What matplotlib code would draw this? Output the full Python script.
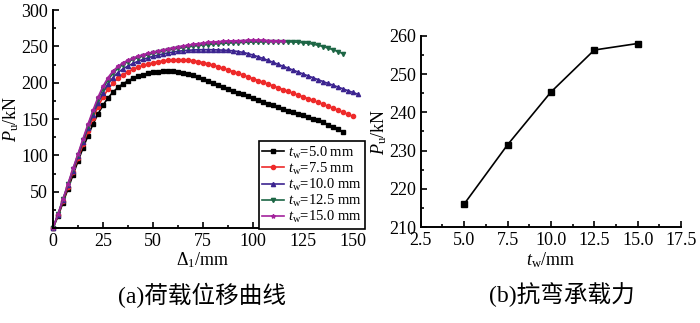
import matplotlib.pyplot as plt
from matplotlib.ticker import MultipleLocator, FuncFormatter

plt.rcParams['font.family'] = ['Liberation Serif', 'Noto Sans CJK SC']
plt.rcParams['mathtext.fontset'] = 'custom'
plt.rcParams['mathtext.rm'] = 'Liberation Serif'
plt.rcParams['mathtext.it'] = 'Liberation Serif:italic'

# displacement (mm), shared by all curves
disp = [0, 2.5, 5, 7.5, 10, 12.5, 15, 17.5, 20, 22.5, 25, 27.5, 30, 32.5, 35, 37.5,
        40, 42.5, 45, 47.5, 50, 52.5, 55, 57.5, 60, 62.5, 65, 67.5, 70, 72.5, 75, 77.5,
        80, 82.5, 85, 87.5, 90, 92.5, 95, 97.5, 100, 102.5, 105, 107.5, 110, 112.5,
        115, 117.5, 120, 122.5, 125, 127.5, 130, 132.5, 135, 137.5, 140, 142.5, 145,
        147.5, 150, 152.5]

# load (kN) for each web thickness
load_50 = [0, 16, 35, 54, 73, 92, 110, 127, 143, 157, 169, 179, 187, 193.5, 198.5, 202.5,
           206, 208.7, 211, 212.8, 214.2, 215.2, 215.8, 216, 215.7, 214.9, 213.6, 211.9,
           209.9, 207.6, 205.1, 202.5, 199.8, 197, 194.2, 191.5, 188.9, 186.3, 183.8,
           181.3, 178.8, 176.3, 173.8, 171.3, 168.8, 166.4, 164, 161.7, 159.4, 157.2,
           155, 152.8, 150.5, 148, 145.4, 142.4, 139.2, 135.8, 132.3]
load_75 = [0, 17.5, 37, 57, 77, 96, 115, 134, 151, 167, 180, 191, 199.5, 206, 211, 215,
           218.5, 221.3, 223.7, 225.7, 227.4, 228.8, 230, 230.9, 231.4, 231.6, 231.5, 231,
           230.2, 229, 227.6, 225.9, 224, 222, 219.8, 217.5, 215.2, 212.8, 210.4, 207.9,
           205.4, 203, 200.5, 198, 195.5, 193, 190.5, 188, 185.5, 183, 180.5, 178, 175.5,
           173, 170.3, 167.6, 164.9, 162.1, 159.3, 156.4, 153.5]
load_100 = [0, 18.5, 39, 59, 79, 99, 119, 138, 156, 172, 186, 198, 207, 214, 219, 223,
            226.5, 229.5, 232, 234.3, 236.3, 238, 239.6, 241, 242.2, 243.2, 244, 244.6,
            245, 245.3, 245.4, 245.4, 245.3, 245.1, 244.8, 244.4, 243.8, 242.9, 241.7,
            240, 238, 235.8, 233.3, 230.7, 228, 225.3, 222.6, 220, 217.3, 214.7, 212,
            209.4, 206.8, 204.2, 201.6, 199, 196.5, 194, 191.5, 189, 186.5, 184]
load_125 = [0, 19, 40, 60, 81, 101, 121, 141, 160, 177, 192, 204, 213, 220, 225, 229,
            232, 234.5, 236.5, 238.5, 240.2, 241.8, 243.3, 244.7, 246, 247.2, 248.3,
            249.3, 250.2, 251, 251.8, 252.5, 253.1, 253.6, 254.1, 254.5, 254.9, 255.2,
            255.5, 255.7, 255.9, 256, 256.1, 256.2, 256.3, 256.3, 256.3, 256.2, 256,
            255.6, 255, 254.2, 253, 251.5, 249.7, 247.6, 245.3, 242.8, 240]
load_150 = [0, 19, 40, 61, 82, 102, 123, 143, 162, 180, 195, 207, 216, 222.5, 227.5, 231,
            234, 236.5, 238.5, 240.5, 242, 243.5, 245, 246.5, 248, 249.3, 250.5, 251.7,
            252.8, 253.8, 254.7, 255.4, 256, 256.5, 257, 257.3, 257.6, 257.8, 258, 258.1,
            258.2, 258.2, 258.1, 258, 257.8, 257.6, 257.3]

labels = [r'$t_\mathrm{w}$=5.0 mm', r'$t_\mathrm{w}$=7.5 mm', r'$t_\mathrm{w}$=10.0 mm',
          r'$t_\mathrm{w}$=12.5 mm', r'$t_\mathrm{w}$=15.0 mm']
colors = ['black', '#ee2a2a', '#3c2490', '#1d6645', '#a3229c']
markers = ['s', 'o', '^', 'v', '*']

# ultimate capacity vs web thickness
tw = [5.0, 7.5, 10.0, 12.5, 15.0]
pu = [216.0, 231.5, 245.3, 256.3, 258.0]

fig = plt.figure(figsize=(7, 3.23), dpi=100)
ax1 = fig.add_axes([0.0757, 0.294, 0.4286, 0.675])
ax2 = fig.add_axes([0.601, 0.297, 0.372, 0.592])

curves = [load_50, load_75, load_100, load_125, load_150]
for load, lab, c, m in zip(curves, labels, colors, markers):
    ax1.plot(disp[:len(load)], load, color=c, marker=m, markersize=3, lw=1.2,
             label=lab, clip_on=False)

ax1.set_xlim(0, 150)
ax1.set_ylim(0, 300)
ax1.xaxis.set_major_locator(MultipleLocator(25))
ax1.xaxis.set_minor_locator(MultipleLocator(12.5))
ax1.yaxis.set_major_locator(MultipleLocator(50))
ax1.yaxis.set_minor_locator(MultipleLocator(25))
ax1.yaxis.set_major_formatter(FuncFormatter(lambda v, p: '' if v == 0 else '%d' % v))
ax1.set_xlabel(r'$\mathit{Δ}_1$/mm', fontsize=13, labelpad=0)
ax1.set_ylabel(r'$P_\mathrm{u}$/kN', fontsize=13, labelpad=0)
leg = ax1.legend(loc='upper left', bbox_to_anchor=(0.685, 0.40), borderaxespad=0,
                 fontsize=10.5, handlelength=1.5, handletextpad=0.25, labelspacing=0.0,
                 borderpad=0.25, fancybox=False, framealpha=1)
leg.get_frame().set_edgecolor('black')
leg.get_frame().set_linewidth(1.2)

ax2.plot(tw, pu, color='black', marker='s', markersize=5, lw=1.2)
ax2.set_xlim(2.5, 17.5)
ax2.set_ylim(210, 260)
ax2.xaxis.set_major_locator(MultipleLocator(2.5))
ax2.xaxis.set_minor_locator(MultipleLocator(1.25))
ax2.yaxis.set_major_locator(MultipleLocator(10))
ax2.yaxis.set_minor_locator(MultipleLocator(5))
ax2.xaxis.set_major_formatter(FuncFormatter(lambda v, p: '%.1f' % v))
ax2.set_xlabel(r'$t_\mathrm{w}$/mm', fontsize=13, labelpad=1)
ax2.set_ylabel(r'$P_\mathrm{u}$/kN', fontsize=13, labelpad=0)

for ax in (ax1, ax2):
    for s in ('top', 'right'):
        ax.spines[s].set_visible(False)
    for s in ('left', 'bottom'):
        ax.spines[s].set_linewidth(1.4)
    ax.tick_params(which='both', direction='in', width=1.2, labelsize=13)
    ax.tick_params(which='major', length=4)
    ax.tick_params(which='minor', length=2.5)

fig.text(0.289, 0.087, '(a)荷载位移曲线', fontsize=17, ha='center', va='center')
fig.text(0.803, 0.087, '(b)抗弯承载力', fontsize=17, ha='center', va='center')

fig.savefig('out.png', dpi=100)
